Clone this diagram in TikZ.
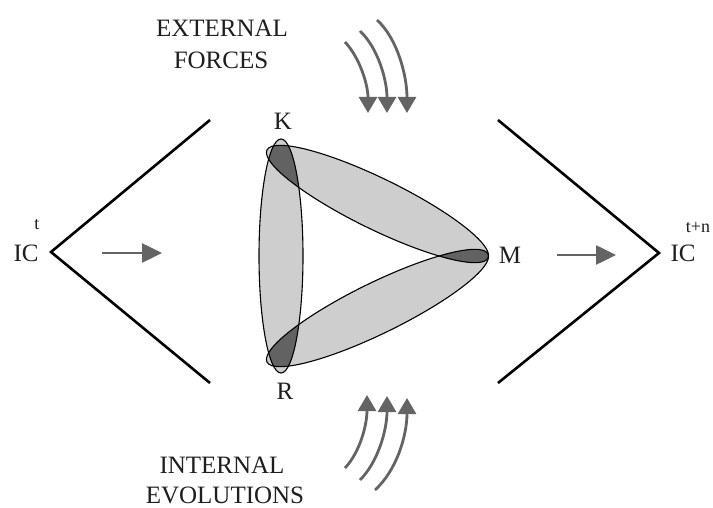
\documentclass[tikz,border=0pt]{standalone}
\usepackage{fontspec}
\setmainfont{Liberation Serif}
\usetikzlibrary{arrows.meta}
\definecolor{lightfill}{RGB}{206,206,206}
\definecolor{darkfill}{RGB}{98,98,98}
\definecolor{arrowgray}{RGB}{100,100,100}
\definecolor{textcol}{RGB}{30,30,30}
\tikzset{
  chevron/.style={line width=2.6pt, black, line join=miter},
  bigarrow/.style={line width=2.6pt, arrowgray, -{Triangle[length=20pt,width=19pt]}},
  bentarrow/.style={line width=2.8pt, arrowgray, -{Triangle[length=16pt,width=18pt]}},
  lab/.style={font=\fontsize{25}{25}\selectfont, inner sep=0pt, text=textcol},
  suplab/.style={font=\fontsize{18}{18}\selectfont, inner sep=0pt, text=textcol},
  bandline/.style={line width=1.1pt, black}
}
\newcommand{\ellKR}{(281,256) ellipse [x radius=22, y radius=117]}
\newcommand{\ellKM}{[shift={(377.5,204)}, rotate=-26.05] (0,0) ellipse [x radius=123, y radius=25.5]}
\newcommand{\ellRM}{[shift={(377.5,308)}, rotate=26.05] (0,0) ellipse [x radius=123, y radius=25.5]}
\begin{document}
\begin{tikzpicture}[x=1pt, y=-1pt]
\useasboundingbox (0,0) rectangle (713,508);
% chevrons
\draw[chevron] (210,120) -- (51,252) -- (210,383);
\draw[chevron] (498,120) -- (659,253) -- (498,383);
% labels
\node[lab] (ic1) at (26,253) {IC};
\node[suplab] (t1) at (37,225) {t};
\node[lab] (ic2) at (683,253) {IC};
\node[suplab] (t2) at (698,228) {t+n};
\node[lab] (ext1) at (222,28) {EXTERNAL};
\node[lab] (ext2) at (221,60) {FORCES};
\node[lab] (int1) at (222,465) {INTERNAL};
\node[lab] (int2) at (225,495) {EVOLUTIONS};
\node[lab] (K) at (283,121) {K};
\node[lab] (R) at (285,391) {R};
\node[lab] (M) at (510,255) {M};
% straight arrows
\coordinate (la1) at (102,253); \coordinate (la2) at (162,253);
\coordinate (ra1) at (557,255); \coordinate (ra2) at (616,255);
\draw[bigarrow] (la1) -- (la2);
\draw[bigarrow] (ra1) -- (ra2);
% bands
\fill[lightfill] \ellKR;
\fill[lightfill] \ellKM;
\fill[lightfill] \ellRM;
\begin{scope}
  \clip \ellKR;
  \fill[darkfill] \ellKM;
  \fill[darkfill] \ellRM;
\end{scope}
\begin{scope}
  \clip \ellKM;
  \fill[darkfill] \ellRM;
\end{scope}
\draw[bandline] \ellKR;
\draw[bandline] \ellKM;
\draw[bandline] \ellRM;
% bent arrows top
\draw[bentarrow] (345,42) .. controls (360,58) and (368,85) .. (368,113);
\draw[bentarrow] (360,31) .. controls (378,48) and (387,80) .. (387,113);
\draw[bentarrow] (377,20) .. controls (397,38) and (407,75) .. (407,113);
% bent arrows bottom
\draw[bentarrow] (345,468) .. controls (360,452) and (367,425) .. (367,395);
\draw[bentarrow] (360,480) .. controls (378,462) and (387,430) .. (387,396);
\draw[bentarrow] (375,490) .. controls (397,470) and (407,435) .. (407,398);
\end{tikzpicture}
\end{document}
